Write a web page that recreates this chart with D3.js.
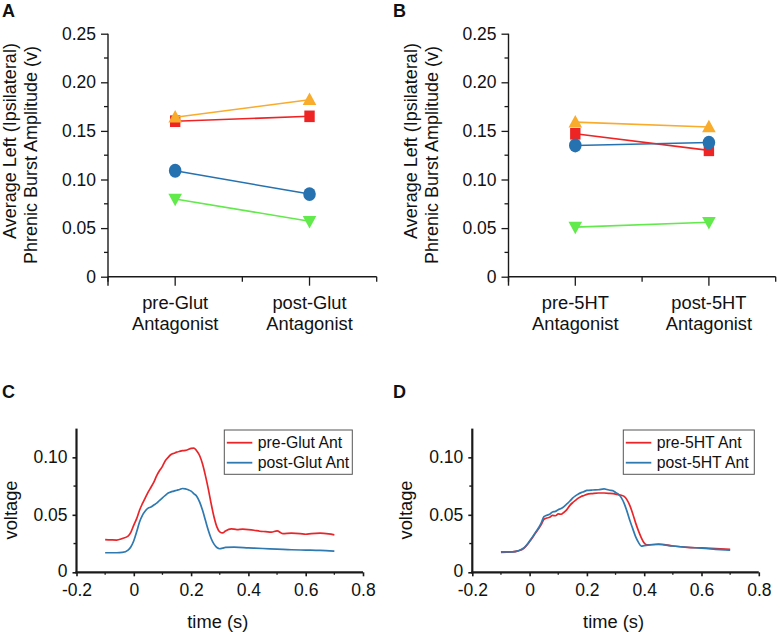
<!DOCTYPE html>
<html>
<head>
<meta charset="utf-8">
<script src="https://cdn.jsdelivr.net/npm/d3@7"></script>
<style>
  html, body { margin: 0; padding: 0; background: #fff; }
  svg { display: block; font-family: "Liberation Sans", Arial, Helvetica, sans-serif; }
</style>
</head>
<body>
<svg id="fig" width="780" height="632"></svg>
<script>
// ---- data ----
const conditionsA = [['pre-Glut', 'Antagonist'], ['post-Glut', 'Antagonist']];
const conditionsB = [['pre-5HT', 'Antagonist'], ['post-5HT', 'Antagonist']];
const ampTicks = [0, 0.05, 0.10, 0.15, 0.20, 0.25];

// one array per animal: [pre, post]
const glutSquare = [0.160, 0.165];
const glutCircle = [0.109, 0.085];
const glutDown   = [0.080, 0.057];
const glutUp     = [0.164, 0.182];

const htSquare = [0.147, 0.130];
const htCircle = [0.135, 0.138];
const htDown   = [0.051, 0.056];
const htUp     = [0.159, 0.154];

const voltTicks = [0, 0.05, 0.10];
const timeTicks = [-0.2, 0, 0.2, 0.4, 0.6, 0.8];

const preGlut = [[-0.1,0.0285],[-0.08,0.0282],[-0.06,0.028],[-0.04,0.0294],[-0.02,0.0314],[-0.01,0.035],[0,0.041],[0.01,0.0467],[0.02,0.054],[0.03,0.0597],[0.04,0.0648],[0.05,0.0697],[0.06,0.074],[0.07,0.0784],[0.08,0.0841],[0.09,0.0885],[0.1,0.0922],[0.11,0.0971],[0.12,0.1],[0.13,0.1025],[0.14,0.1035],[0.15,0.1045],[0.16,0.1052],[0.17,0.1058],[0.18,0.106],[0.19,0.1068],[0.2,0.1078],[0.21,0.108],[0.22,0.1055],[0.23,0.1014],[0.24,0.0942],[0.25,0.0841],[0.26,0.0726],[0.27,0.0597],[0.28,0.0481],[0.29,0.0395],[0.3,0.0352],[0.31,0.0343],[0.32,0.036],[0.34,0.0378],[0.36,0.0372],[0.38,0.0375],[0.4,0.0372],[0.42,0.0366],[0.44,0.0357],[0.46,0.0354],[0.48,0.0349],[0.5,0.036],[0.52,0.0337],[0.55,0.034],[0.58,0.0337],[0.6,0.0331],[0.62,0.0337],[0.65,0.034],[0.68,0.0334],[0.7,0.0326]];
const postGlut = [[-0.1,0.017],[-0.08,0.017],[-0.06,0.017],[-0.04,0.0173],[-0.02,0.0193],[-0.01,0.0222],[0,0.0274],[0.01,0.0352],[0.02,0.0438],[0.03,0.0496],[0.04,0.0533],[0.05,0.0558],[0.06,0.0568],[0.07,0.0585],[0.08,0.0602],[0.09,0.0625],[0.1,0.0648],[0.11,0.0669],[0.12,0.0689],[0.13,0.07],[0.14,0.0706],[0.15,0.0714],[0.16,0.072],[0.17,0.0729],[0.18,0.0726],[0.19,0.0718],[0.2,0.0706],[0.21,0.0683],[0.22,0.066],[0.23,0.0611],[0.24,0.0539],[0.25,0.0452],[0.26,0.0366],[0.27,0.0294],[0.28,0.0245],[0.29,0.0216],[0.3,0.0205],[0.31,0.021],[0.32,0.0216],[0.35,0.0219],[0.4,0.0213],[0.45,0.0207],[0.5,0.0202],[0.55,0.0196],[0.6,0.0193],[0.65,0.019],[0.7,0.0184]];
const pre5HT = [[-0.1,0.0174],[-0.08,0.0175],[-0.06,0.0177],[-0.04,0.0186],[-0.02,0.0209],[0,0.0267],[0.02,0.0339],[0.04,0.0412],[0.05,0.046],[0.06,0.0472],[0.07,0.0478],[0.08,0.0495],[0.09,0.0492],[0.1,0.0508],[0.11,0.0505],[0.12,0.0522],[0.13,0.0545],[0.14,0.058],[0.15,0.0605],[0.16,0.0625],[0.17,0.0645],[0.18,0.066],[0.19,0.0668],[0.2,0.0678],[0.22,0.0685],[0.24,0.069],[0.26,0.069],[0.28,0.0686],[0.3,0.068],[0.32,0.067],[0.33,0.066],[0.34,0.063],[0.35,0.058],[0.36,0.051],[0.37,0.043],[0.38,0.036],[0.39,0.030],[0.4,0.0255],[0.41,0.0238],[0.45,0.0246],[0.5,0.0229],[0.55,0.0217],[0.6,0.0212],[0.65,0.0206],[0.7,0.02]];
const post5HT = [[-0.1,0.0177],[-0.08,0.0178],[-0.06,0.0178],[-0.04,0.0188],[-0.02,0.0212],[0,0.0272],[0.02,0.0345],[0.04,0.0426],[0.05,0.0484],[0.06,0.0497],[0.07,0.0505],[0.08,0.0525],[0.09,0.053],[0.1,0.0545],[0.11,0.0555],[0.12,0.0572],[0.13,0.0595],[0.14,0.0618],[0.15,0.0645],[0.16,0.0665],[0.17,0.068],[0.18,0.0693],[0.19,0.0702],[0.2,0.0712],[0.22,0.0716],[0.24,0.0718],[0.26,0.0726],[0.27,0.072],[0.28,0.0714],[0.29,0.071],[0.3,0.0695],[0.31,0.068],[0.32,0.065],[0.33,0.060],[0.34,0.053],[0.35,0.045],[0.36,0.038],[0.37,0.031],[0.38,0.026],[0.39,0.0228],[0.4,0.0232],[0.45,0.0242],[0.5,0.0229],[0.55,0.0218],[0.6,0.021],[0.65,0.02],[0.7,0.0192]];

// ---- styles ----
const C = {
  red: '#ee2424', blue: '#2672b0', green: '#62e94c', orange: '#f9ab2c',
  tRed: '#e8262a', tBlue: '#2f79b1', axis: '#1a1a1a'
};
const FONT = 17.5;
const fmtTick = p => d => d === 0 ? '0' : d3.format(p)(d).replace('\u2212', '-');

const svg = d3.select('#fig');

function panelLetter(x, y, t) {
  svg.append('text').attr('x', x).attr('y', y).text(t)
    .attr('font-size', 18).attr('font-weight', 'bold').attr('fill', '#111');
}

// marker paths centred on 0,0
function markerPath(kind) {
  if (kind === 'up') return 'M0,-7.2L6.8,5.3L-6.8,5.3Z';
  if (kind === 'down') return 'M0,7.2L6.8,-5.3L-6.8,-5.3Z';
  if (kind === 'square') return 'M-5.2,-5.8H5.2V5.8H-5.2Z';
  return null;
}

function dotPanel(opt) {
  const g = svg.append('g');
  const x = d3.scaleLinear().domain([0, 4]).range([opt.left, opt.right]);
  const y = d3.scaleLinear().domain([0, 0.25]).range([276.7, 33.7]);

  // y axis
  const yAxis = g.append('g').attr('transform', `translate(${opt.left},0)`)
    .call(d3.axisLeft(y).tickValues(ampTicks).tickSize(7).tickPadding(5).tickFormat(fmtTick('.2f')));
  yAxis.selectAll('line').attr('stroke', C.axis).attr('stroke-width', 1.3);
  yAxis.select('.domain').remove();
  g.append('line').attr('x1', opt.left).attr('x2', opt.left).attr('y1', y(0.25)).attr('y2', y(0) + 9)
    .attr('stroke', C.axis).attr('stroke-width', 1.4);
  const minor = d3.range(0.025, 0.25, 0.05);
  g.selectAll('.ymin').data(minor).join('line')
    .attr('x1', opt.left - 4).attr('x2', opt.left).attr('y1', d => y(d)).attr('y2', d => y(d))
    .attr('stroke', C.axis).attr('stroke-width', 1.3);
  yAxis.selectAll('text').attr('font-size', FONT).attr('fill', '#111').attr('font-family', 'inherit');

  // x axis
  g.append('line').attr('x1', opt.left).attr('x2', opt.right).attr('y1', y(0)).attr('y2', y(0))
    .attr('stroke', C.axis).attr('stroke-width', 1.4);
  g.selectAll('.xt').data([0, 1, 2, 3, 4]).join('line')
    .attr('x1', d => x(d)).attr('x2', d => x(d))
    .attr('y1', y(0)).attr('y2', d => y(0) + (d % 2 ? 9 : 5))
    .attr('stroke', C.axis).attr('stroke-width', 1.3);
  opt.cats.forEach((c, i) => {
    const t = g.append('text').attr('x', x(1 + 2 * i)).attr('text-anchor', 'middle')
      .attr('font-size', 18.3).attr('fill', '#111');
    t.append('tspan').attr('x', x(1 + 2 * i)).attr('y', 308.5).text(c[0]);
    t.append('tspan').attr('x', x(1 + 2 * i)).attr('y', 330).text(c[1]);
  });

  // y title
  g.append('text').attr('transform', `translate(${opt.left - 92},141) rotate(-90)`)
    .attr('text-anchor', 'middle').attr('font-size', 18).attr('fill', '#111')
    .text('Average Left (Ipsilateral)');
  g.append('text').attr('transform', `translate(${opt.left - 71},155) rotate(-90)`)
    .attr('text-anchor', 'middle').attr('font-size', 18).attr('fill', '#111')
    .text('Phrenic Burst Amplitude (v)');

  const series = [
    { v: opt.square, col: C.red, kind: 'square' },
    { v: opt.down, col: C.green, kind: 'down' },
    { v: opt.circle, col: C.blue, kind: 'circle' },
    { v: opt.up, col: C.orange, kind: 'up' }
  ];
  const line = d3.line().x((d, i) => x(1 + 2 * i)).y(d => y(d));
  series.forEach(s => {
    g.append('path').attr('d', line(s.v)).attr('fill', 'none')
      .attr('stroke', s.col).attr('stroke-width', 1.6);
    s.v.forEach((v, i) => {
      if (s.kind === 'circle') {
        g.append('ellipse').attr('cx', x(1 + 2 * i)).attr('cy', y(v)).attr('rx', 6.3).attr('ry', 6.9)
          .attr('fill', s.col);
      } else {
        g.append('path').attr('d', markerPath(s.kind))
          .attr('transform', `translate(${x(1 + 2 * i)},${y(v)})`).attr('fill', s.col);
      }
    });
  });
}

function tracePanel(opt) {
  const g = svg.append('g');
  const x = d3.scaleLinear().domain([-0.2, 0.8]).range([opt.left, opt.left + 286.5]);
  const y = d3.scaleLinear().domain([0, 0.125]).range([572.3, 428.6]);

  const line = d3.line().x(d => x(d[0])).y(d => y(d[1])).curve(d3.curveMonotoneX);
  g.append('path').attr('d', line(opt.pre)).attr('fill', 'none').attr('stroke', C.tRed).attr('stroke-width', 1.7);
  g.append('path').attr('d', line(opt.post)).attr('fill', 'none').attr('stroke', C.tBlue).attr('stroke-width', 1.7);

  // axes
  const yAxis = g.append('g').attr('transform', `translate(${opt.left},0)`)
    .call(d3.axisLeft(y).tickValues(voltTicks).tickSize(4).tickPadding(5).tickFormat(fmtTick('.2f')));
  yAxis.select('.domain').remove();
  yAxis.selectAll('line').attr('stroke', C.axis).attr('stroke-width', 1.6);
  yAxis.selectAll('text').attr('font-size', FONT).attr('fill', '#111').attr('font-family', 'inherit');
  yAxis.selectAll('text').filter(d => d === 0).attr('dy', '0.22em');
  g.selectAll('.ym').data([0.025, 0.075]).join('line')
    .attr('x1', opt.left - 3).attr('x2', opt.left).attr('y1', d => y(d)).attr('y2', d => y(d))
    .attr('stroke', C.axis).attr('stroke-width', 1.4);

  const xAxis = g.append('g').attr('transform', `translate(0,${y(0)})`)
    .call(d3.axisBottom(x).tickValues(timeTicks).tickSize(4).tickPadding(7).tickFormat(fmtTick('.1f')));
  xAxis.select('.domain').remove();
  xAxis.selectAll('line').attr('stroke', C.axis).attr('stroke-width', 1.6);
  xAxis.selectAll('text').attr('font-size', FONT).attr('fill', '#111').attr('font-family', 'inherit');
  g.selectAll('.xm').data([-0.1, 0.1, 0.3, 0.5, 0.7]).join('line')
    .attr('x1', d => x(d)).attr('x2', d => x(d)).attr('y1', y(0)).attr('y2', y(0) + 2.5)
    .attr('stroke', C.axis).attr('stroke-width', 1.3);

  g.append('line').attr('x1', opt.left).attr('x2', opt.left).attr('y1', y(0.125)).attr('y2', y(0) + 1)
    .attr('stroke', C.axis).attr('stroke-width', 2.2);
  g.append('line').attr('x1', opt.left - 1).attr('x2', x(0.8)).attr('y1', y(0)).attr('y2', y(0))
    .attr('stroke', C.axis).attr('stroke-width', 2.2);

  g.append('text').attr('x', x(0.3) - 2).attr('y', 628).attr('text-anchor', 'middle')
    .attr('font-size', 18.3).attr('fill', '#111').text('time (s)');
  g.append('text').attr('transform', `translate(${opt.left - 60},510) rotate(-90)`)
    .attr('text-anchor', 'middle').attr('font-size', 18.3).attr('fill', '#111').text('voltage');

  // legend
  const lg = g.append('g');
  lg.append('rect').attr('x', opt.legX).attr('y', 430).attr('width', opt.legW).attr('height', 44.3)
    .attr('fill', '#fff').attr('stroke', '#555').attr('stroke-width', 1);
  [[opt.labels[0], C.tRed, 442.7], [opt.labels[1], C.tBlue, 462.7]].forEach(([lab, col, ly]) => {
    lg.append('line').attr('x1', opt.legX + 2.5).attr('x2', opt.legX + 28).attr('y1', ly).attr('y2', ly)
      .attr('stroke', col).attr('stroke-width', 1.8);
    lg.append('text').attr('x', opt.legX + 33.5).attr('y', ly + 5.5).attr('font-size', 15.8)
      .attr('fill', '#111').text(lab);
  });
}

panelLetter(2, 17, 'A');
panelLetter(393, 17, 'B');
panelLetter(2, 398, 'C');
panelLetter(393, 398, 'D');

dotPanel({ left: 108, right: 376.7, cats: conditionsA,
  square: glutSquare, circle: glutCircle, down: glutDown, up: glutUp });
dotPanel({ left: 508.5, right: 775.7, cats: conditionsB,
  square: htSquare, circle: htCircle, down: htDown, up: htUp });

tracePanel({ left: 76.5, pre: preGlut, post: postGlut, legX: 224.3, legW: 128,
  labels: ['pre-Glut Ant', 'post-Glut Ant'] });
tracePanel({ left: 472.3, pre: pre5HT, post: post5HT, legX: 623.3, legW: 131,
  labels: ['pre-5HT Ant', 'post-5HT Ant'] });
</script>
</body>
</html>
